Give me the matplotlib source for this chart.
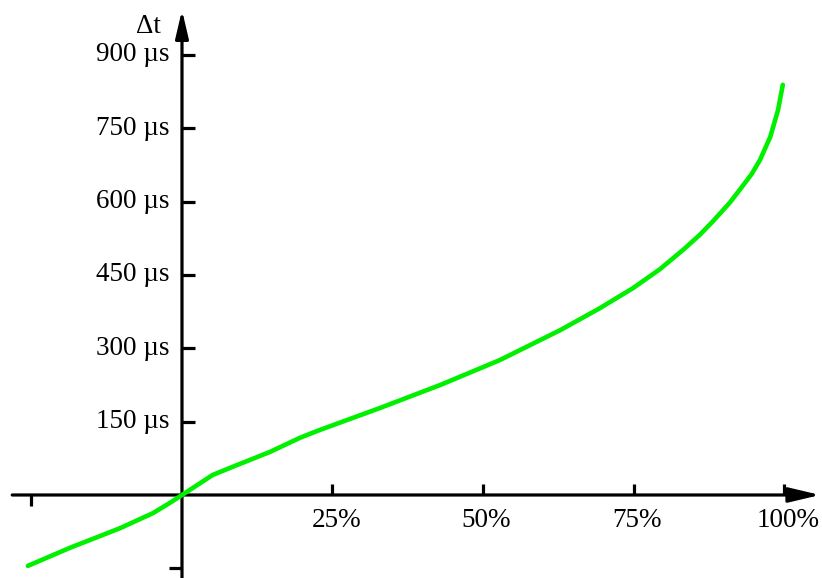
import matplotlib.pyplot as plt
from matplotlib.patches import FancyArrowPatch

plt.rcParams["font.family"] = ["Liberation Serif", "DejaVu Serif"]

# load fraction (%) vs. time delay (µs)
load_pct = [-25.6, -18.6, -10.3, -4.8, -2.0, 0.0, 2.5, 5.1, 9.1, 14.6,
            19.6, 22.9, 32.9, 42.9, 52.8, 62.8, 69.4, 74.9, 79.4, 83.2,
            86.0, 88.2, 91.0, 93.0, 94.6, 96.0, 97.7, 99.0, 99.8]
delay_us = [-145, -108, -68, -37, -16, 0, 20, 41, 61, 88,
            117, 133, 178, 225, 276, 337, 382, 423, 462, 501,
            532, 560, 598, 630, 656, 685, 732, 787, 839]

x_ticks = [-25, 25, 50, 75, 100]
x_labels = ["", "25%", "50%", "75%", "100%"]
y_ticks = [-150, 150, 300, 450, 600, 750, 900]
y_labels = ["", "150 µs", "300 µs", "450 µs", "600 µs", "750 µs", "900 µs"]

fig = plt.figure(figsize=(8.22, 5.78), dpi=100)
ax = fig.add_axes([0, 0, 1, 1])
ax.set_xlim(-30.23, 106.31)
ax.set_ylim(-169.8, 1012.5)
ax.axis("off")

lw = 2.3
fs = 19.5
# x axis with arrow
ax.add_patch(FancyArrowPatch((-28.2, 0), (106.0, 0),
                             arrowstyle="-|>,head_length=1.35,head_width=0.32",
                             mutation_scale=14, lw=lw, color="black",
                             shrinkA=0, shrinkB=0))
# y axis with arrow
ax.add_patch(FancyArrowPatch((0, -169.8), (0, 992),
                             arrowstyle="-|>,head_length=1.2,head_width=0.28",
                             mutation_scale=14, lw=lw, color="black",
                             shrinkA=0, shrinkB=0))

tx = 2.16   # tick length in x units
ty = 22.5   # tick length in y units
for v, lab in zip(x_ticks, x_labels):
    if v > 0:
        ax.plot([v, v], [0, ty], color="black", lw=lw, solid_capstyle="butt")
    else:
        ax.plot([v, v], [0, -ty], color="black", lw=lw, solid_capstyle="butt")
    if lab:
        ax.text(v + 0.6, -65.5, lab, ha="center", va="baseline", fontsize=fs)

for v, lab in zip(y_ticks, y_labels):
    if v > 0:
        ax.plot([0, tx], [v, v], color="black", lw=lw, solid_capstyle="butt")
    else:
        ax.plot([-tx, 0], [v, v], color="black", lw=lw, solid_capstyle="butt")
    if lab:
        ax.text(-2.0, v, lab, ha="right", va="center", fontsize=fs)

ax.text(-3.5, 945, "Δt", ha="right", va="baseline", fontsize=fs)

ax.plot(load_pct, delay_us, color="#00f000", lw=3.3, solid_joinstyle="round",
        solid_capstyle="round")

fig.savefig("out.png", dpi=100)
